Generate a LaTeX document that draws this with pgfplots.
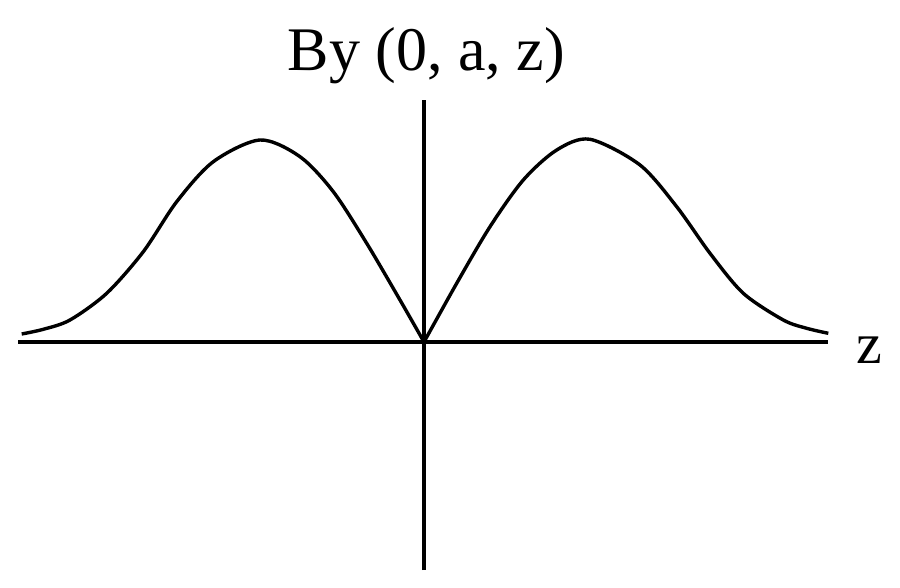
\documentclass[border=0pt]{standalone}
\usepackage{fontspec}
\setmainfont{Liberation Serif}
\usepackage{pgfplots}
\pgfplotsset{compat=1.18}
\begin{document}
\begin{tikzpicture}
\path[use as bounding box] (0,0) rectangle (900pt,587pt);
\begin{axis}[
  at={(18pt,17pt)}, anchor=south west,
  x=1pt, y=1pt,
  xmin=-406, xmax=404, ymin=-228, ymax=242,
  axis lines=middle,
  axis line style={-, line width=3.2pt, black},
  xtick=\empty, ytick=\empty,
  clip=false,
]
\addplot[line width=3.4pt, black, smooth] coordinates {
(-402.3,8) (-380.7,12.7) (-354,22) (-317.3,48.7) (-280.7,90.3) (-247.3,140.3)
(-210.7,180.3) (-164,202) (-124,185.3) (-90.7,150.3) (-57.3,98.7) (-24,42) (0,0)
};
\addplot[line width=3.4pt, black, smooth] coordinates {
(0,0) (32.7,58.7) (66,115.3) (99.3,162) (132.7,192) (166,202.7) (216,177)
(252.7,135.3) (286,88.7) (319.3,48.7) (359.3,22) (382.7,13.7) (404.3,8.7)
};
\node[anchor=base, font=\fontsize{62}{66}\selectfont, inner sep=0pt] at (axis cs:2.5,271.3) {By (0, a, z)};
\node[anchor=base west, font=\fontsize{58}{62}\selectfont, inner sep=0pt] at (axis cs:432,-21.3) {z};
\end{axis}
\end{tikzpicture}
\end{document}
